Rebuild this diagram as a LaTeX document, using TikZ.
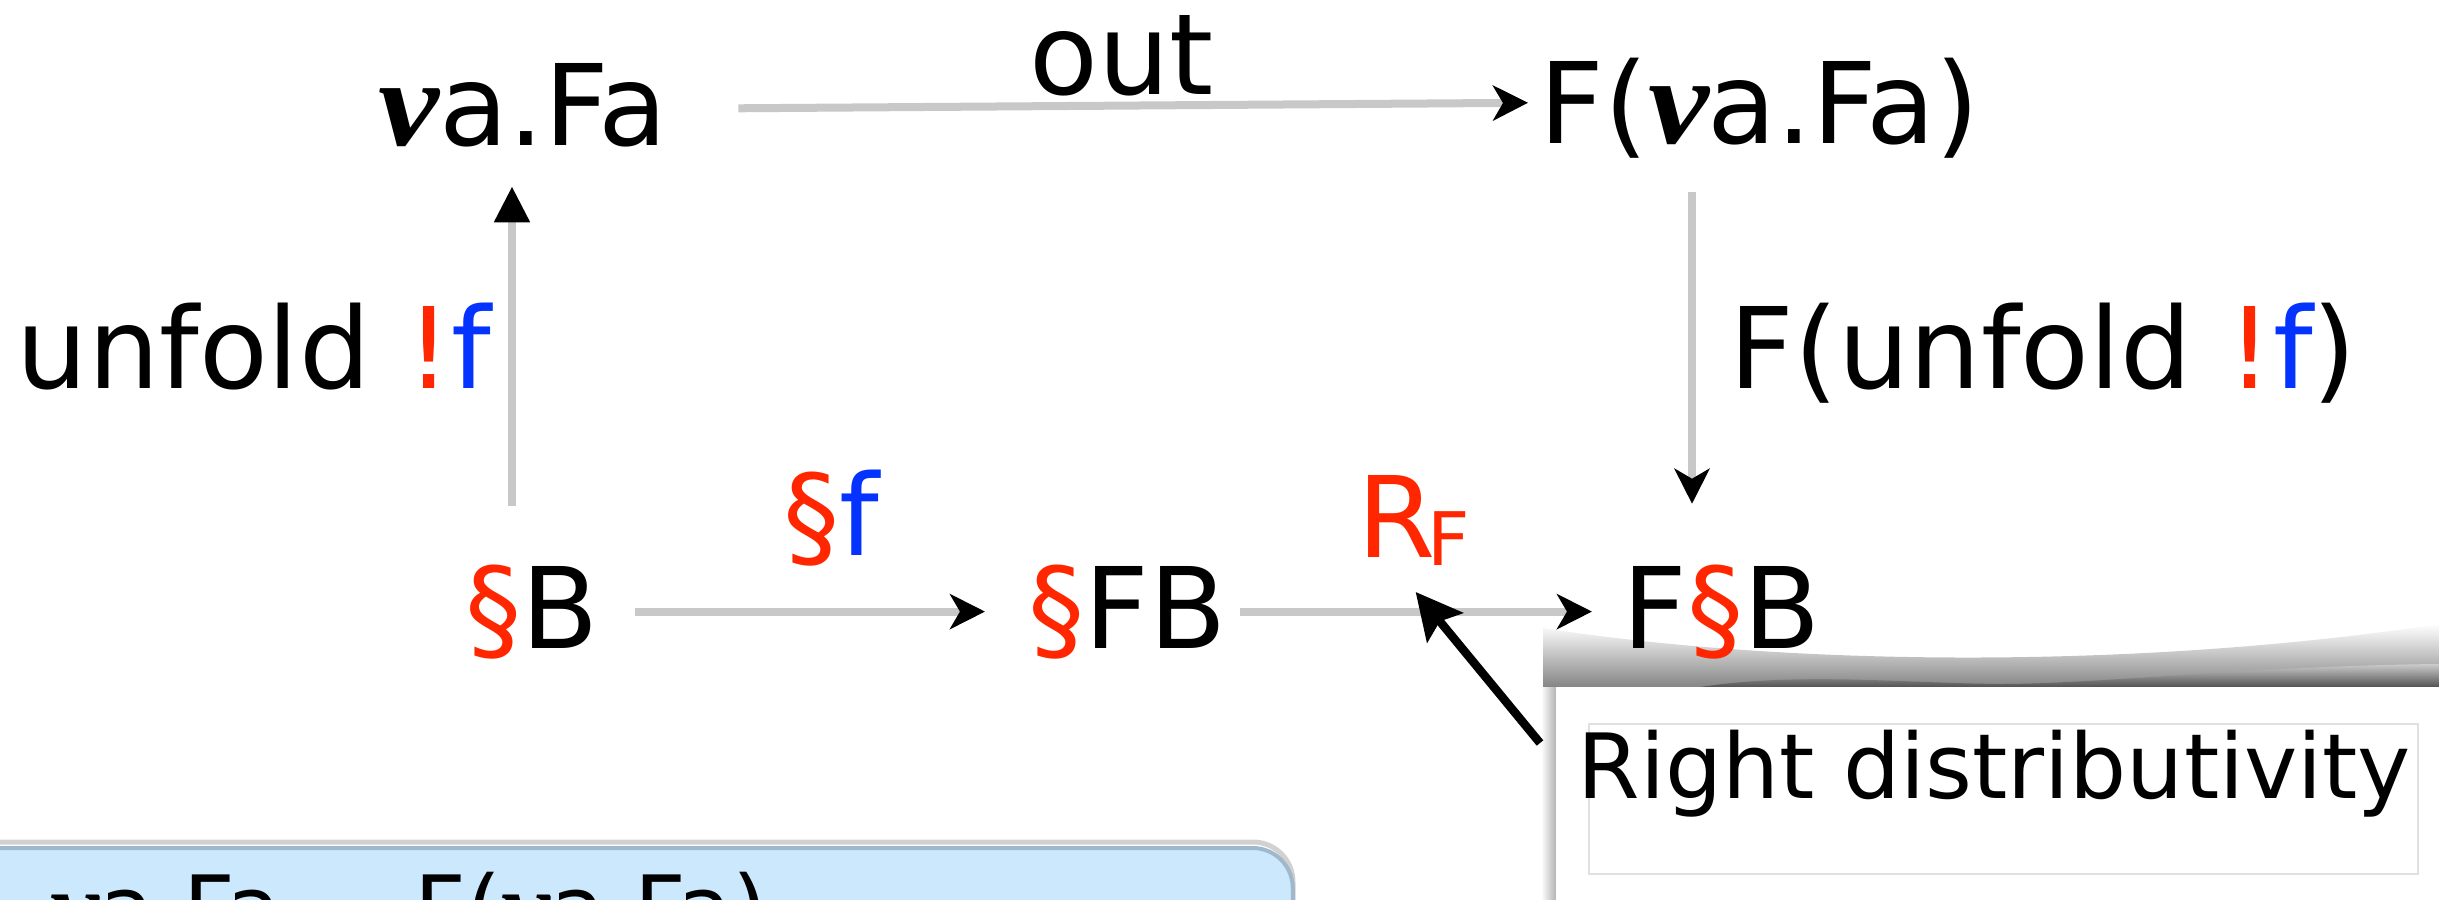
\documentclass[tikz,border=0pt]{standalone}
\usepackage{fontspec}
\setmainfont{DejaVu Sans}
\newfontfamily\nuf{Liberation Serif}
\usetikzlibrary{arrows.meta,calc}
\definecolor{kred}{RGB}{255,38,0}
\definecolor{kblue}{RGB}{4,51,255}
\definecolor{lgray}{RGB}{200,200,200}
\definecolor{boxblue}{RGB}{203,232,252}
\definecolor{boxedge}{RGB}{160,184,204}
\newcommand\nuv{{\nuf\bfseries\itshape\scalebox{1.22}[1.1]{ν}}}
\newcommand\sect{\textcolor{kred}{§}}
\begin{document}
\begin{tikzpicture}[x=0.01cm,y=-0.01cm,
 lab/.style={inner sep=0pt, anchor=base west, font=\fontsize{32}{38}\selectfont},
 small/.style={inner sep=0pt, anchor=base west, font=\fontsize{25.6}{30}\selectfont},
 garrow/.style={draw=lgray, line width=0.08cm, -{Stealth[length=0.35cm,width=0.35cm,inset=0.1cm,black]}},
 uparrow/.style={draw=lgray, line width=0.08cm, -{Triangle[length=0.36cm,width=0.34cm,black]}},
 parrow/.style={draw=black, line width=0.085cm, -{Stealth[length=0.46cm,width=0.46cm,inset=0.08cm]}}]
\useasboundingbox (0,0) rectangle (2439,900);
\clip (0,0) rectangle (2439,900);

% sticky note with curled shadow
\shade[top color=white, bottom color=black!48]
  (1543,687) -- (1543,628) .. controls (1800,668) and (2150,668) .. (2439,624) -- (2439,687) -- cycle;
\shade[top color=black!20, bottom color=black!68]
  (1700,687) .. controls (1800,672) and (1900,683) .. (2000,684)
  .. controls (2100,684) and (2250,666) .. (2439,664) -- (2439,687) -- cycle;
\shade[left color=white, right color=black!30] (1541,687) rectangle (1556,900);
\fill[white] (1556,687) rectangle (2439,900);
\node[draw=black!12, line width=0.02cm, inner sep=0pt, minimum width=8.28cm,
      minimum height=1.5cm, anchor=north west] (note) at (1588,723) {};
\node[small] (rd) at (1577,798) {Right distributivity};

% bottom-left box
\draw[black!18, line width=0.05cm, rounded corners=0.4cm] (-60,842) rectangle (1293,1000);
\node[fill=boxblue, draw=boxedge, line width=0.04cm, rounded corners=0.4cm,
      inner sep=0pt, minimum width=13.5cm, minimum height=2cm, anchor=north west] (iso) at (-60,846) {};
\node[small] (isotext) at (50,940) {\nuv a.Fa \raisebox{-0.14cm}{≅} F(\nuv a.Fa)};

% objects
\node[lab] (nu) at (378,145) {\nuv a.Fa};
\node[lab] (Fnu) at (1539,143) {F(\nuv\kern-0.02cm a.Fa)};
\node[lab] (out) at (1029,94) {out};
\node[lab] (unf) at (16,388) {unfold \textcolor{kred}{!}\textcolor{kblue}{f}};
\node[lab] (Funf) at (1729,388) {F(unfold \textcolor{kred}{!}\textcolor{kblue}{f})};
\node[lab] (sB) at (465,648) {\sect B};
\node[lab] (sf) at (783,555) {\sect\textcolor{kblue}{f}};
\node[lab] (sFB) at (1028,648) {\sect FB};
\node[lab] (FsB) at (1622,648) {F\sect B};
\node[lab, text=kred] (RF) at (1357,557) {R\kern-0.08cm\raisebox{-0.08cm}{\fontsize{21}{25}\selectfont F}};

\coordinate (lx) at (512,0);
\coordinate (rx) at (1692,0);
\coordinate (ptail) at (1540,743);

% connectors
\draw[garrow, shorten <=0.7cm, shorten >=0.11cm] ([yshift=-0.04cm]nu.east) -- ([yshift=0.05cm]Fnu.west);
\draw[uparrow, shorten <=0.58cm, shorten >=0.39cm] (sB.north -| lx) -- (nu.south -| lx);
\draw[garrow, shorten <=0.33cm, shorten >=0.6cm] (Fnu.south -| rx) -- (FsB.north -| rx);
\draw[garrow, shorten <=0.35cm, shorten >=0.43cm] (sB.east) -- (sFB.west);
\draw[garrow, shorten <=0.12cm, shorten >=0.3cm] (sFB.east) -- (FsB.west);
\draw[parrow, shorten >=0.34cm] (ptail) -- ([xshift=-0.2cm]RF.south);
\end{tikzpicture}
\end{document}
